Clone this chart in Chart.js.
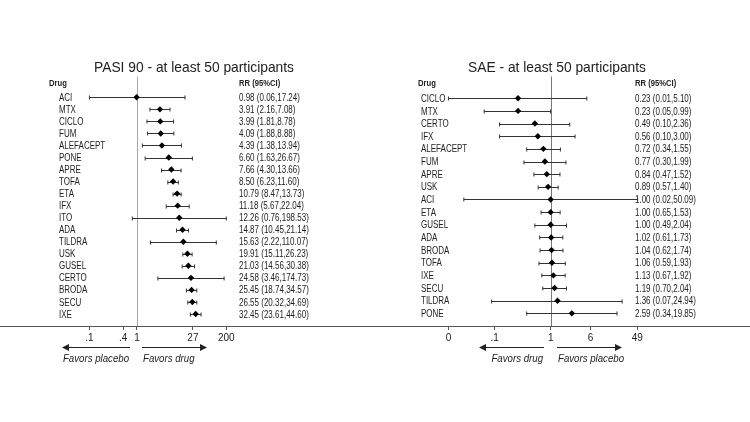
<!DOCTYPE html>
<html>
<head>
<meta charset="utf-8">
<script src="https://cdn.jsdelivr.net/npm/chart.js@4.4.1/dist/chart.umd.min.js"></script>
<style>
  body { margin: 0; background: #fff; }
  .wrap { position: relative; width: 750px; height: 422px; }
  canvas { position: absolute; top: 0; }
</style>
</head>
<body>
<div class="wrap">
  <canvas id="pasi" width="375" height="422" style="left:0"></canvas>
  <canvas id="sae" width="375" height="422" style="left:375px"></canvas>
</div>
<script>
// PASI 90 panel
const pasiDrugs = ['ACI', 'MTX', 'CICLO', 'FUM', 'ALEFACEPT', 'PONE', 'APRE', 'TOFA', 'ETA', 'IFX',
  'ITO', 'ADA', 'TILDRA', 'USK', 'GUSEL', 'CERTO', 'BRODA', 'SECU', 'IXE'];
const pasiRR = [0.98, 3.91, 3.99, 4.09, 4.39, 6.60, 7.66, 8.50, 10.79, 11.18,
  12.26, 14.87, 15.63, 19.91, 21.03, 24.58, 25.45, 26.55, 32.45];
const pasiLow = [0.06, 2.16, 1.81, 1.88, 1.38, 1.63, 4.30, 6.23, 8.47, 5.67,
  0.76, 10.45, 2.22, 15.11, 14.56, 3.46, 18.74, 20.32, 23.61];
const pasiHigh = [17.24, 7.08, 8.78, 8.88, 13.94, 26.67, 13.66, 11.60, 13.73, 22.04,
  198.53, 21.14, 110.07, 26.23, 30.38, 174.73, 34.57, 34.69, 44.60];
const pasiTicks = [0.06, 0.44, 1, 27.5, 198.53];
const pasiTickLabels = ['.1', '.4', '1', '27', '200'];

// SAE panel
const saeDrugs = ['CICLO', 'MTX', 'CERTO', 'IFX', 'ALEFACEPT', 'FUM', 'APRE', 'USK', 'ACI',
  'ETA', 'GUSEL', 'ADA', 'BRODA', 'TOFA', 'IXE', 'SECU', 'TILDRA', 'PONE'];
const saeRR = [0.23, 0.23, 0.49, 0.56, 0.72, 0.77, 0.84, 0.89, 1.00,
  1.00, 1.00, 1.02, 1.04, 1.06, 1.13, 1.19, 1.36, 2.59];
const saeLow = [0.01, 0.05, 0.10, 0.10, 0.34, 0.30, 0.47, 0.57, 0.02,
  0.65, 0.49, 0.61, 0.62, 0.59, 0.67, 0.70, 0.07, 0.34];
const saeHigh = [5.10, 0.99, 2.36, 3.00, 1.55, 1.99, 1.52, 1.40, 50.09,
  1.53, 2.04, 1.73, 1.74, 1.93, 1.92, 2.04, 24.94, 19.85];
const saeTicks = [0.01, 0.08, 1, 6, 49.5];
const saeTickLabels = ['0', '.1', '1', '6', '49'];

const SANS = '"Liberation Sans", Arial, sans-serif';

function drawText(ctx, str, x, y, font, align, sx) {
  ctx.save();
  ctx.font = font;
  ctx.fillStyle = '#222';
  ctx.textAlign = align;
  ctx.textBaseline = 'alphabetic';
  ctx.translate(x, y);
  ctx.scale(sx, 1);
  ctx.fillText(str, 0, 0);
  ctx.restore();
}

function arrow(ctx, x1, x2, y) {
  const dir = Math.sign(x2 - x1);
  ctx.save();
  ctx.strokeStyle = '#222';
  ctx.fillStyle = '#222';
  ctx.lineWidth = 1;
  ctx.beginPath();
  ctx.moveTo(x1, y);
  ctx.lineTo(x2 - dir * 6, y);
  ctx.stroke();
  ctx.beginPath();
  ctx.moveTo(x2, y);
  ctx.lineTo(x2 - dir * 7, y - 3.5);
  ctx.lineTo(x2 - dir * 7, y + 3.5);
  ctx.closePath();
  ctx.fill();
  ctx.restore();
}

function makeForest(id, p) {
  const rrText = p.rr.map((v, i) => `${v.toFixed(2)} (${p.low[i].toFixed(2)},${p.high[i].toFixed(2)})`);

  const forestPlugin = {
    id: 'forest',
    beforeDatasetsDraw(chart) {
      const ctx = chart.ctx;
      const xs = chart.scales.x;
      const ys = chart.scales.y;
      const area = chart.chartArea;
      // reference line at RR = 1
      const x1 = Math.round(xs.getPixelForValue(1)) + 0.5;
      ctx.save();
      ctx.strokeStyle = p.refColor;
      ctx.lineWidth = 1;
      ctx.beginPath();
      ctx.moveTo(x1, area.top);
      ctx.lineTo(x1, area.bottom);
      ctx.stroke();
      // confidence intervals
      ctx.strokeStyle = '#333';
      p.rr.forEach((v, i) => {
        const y = Math.round(ys.getPixelForValue(i)) + 0.5;
        const a = xs.getPixelForValue(p.low[i]);
        const b = xs.getPixelForValue(p.high[i]);
        ctx.beginPath();
        ctx.moveTo(a, y);
        ctx.lineTo(b, y);
        ctx.moveTo(a, y - 2);
        ctx.lineTo(a, y + 2);
        ctx.moveTo(b, y - 2);
        ctx.lineTo(b, y + 2);
        ctx.stroke();
      });
      ctx.restore();
    },
    afterDraw(chart) {
      const ctx = chart.ctx;
      const ys = chart.scales.y;
      drawText(ctx, p.title, p.titleX, 72, `15px ${SANS}`, 'center', 0.92);
      drawText(ctx, 'Drug', p.drugHeadX, 86, `bold 9px ${SANS}`, 'left', 0.85);
      drawText(ctx, 'RR (95%CI)', p.valX, 86, `bold 9px ${SANS}`, 'left', 0.85);
      p.drugs.forEach((d, i) => {
        const y = ys.getPixelForValue(i) + 3.6;
        drawText(ctx, d, p.drugX, y, `10px ${SANS}`, 'left', 0.8);
        drawText(ctx, rrText[i], p.valX, y, `10px ${SANS}`, 'left', 0.8);
      });
      arrow(ctx, p.leftArrow[0], p.leftArrow[1], 347.5);
      arrow(ctx, p.rightArrow[0], p.rightArrow[1], 347.5);
      drawText(ctx, p.leftText, p.leftArrow[0] - 1, 361.5, `italic 10.5px ${SANS}`, 'right', 0.92);
      drawText(ctx, p.rightText, p.rightArrow[0] + 1, 361.5, `italic 10.5px ${SANS}`, 'left', 0.92);
    }
  };

  return new Chart(document.getElementById(id), {
    type: 'scatter',
    data: {
      datasets: [{
        data: p.rr.map((v, i) => ({ x: v, y: i })),
        pointStyle: 'rectRot',
        pointRadius: 3.2,
        backgroundColor: '#000',
        borderColor: '#000',
        borderWidth: 0
      }]
    },
    options: {
      responsive: false,
      animation: false,
      layout: { autoPadding: false, padding: { top: 76.5, left: 0, right: 0, bottom: 0 } },
      plugins: { legend: { display: false }, tooltip: { enabled: false } },
      scales: {
        x: {
          type: 'logarithmic',
          min: p.xMin,
          max: p.xMax,
          afterBuildTicks: (axis) => { axis.ticks = p.ticks.map(v => ({ value: v })); },
          afterFit: (axis) => { axis.height = 96; },
          grid: { display: true, drawOnChartArea: false, drawTicks: true, tickLength: 4, color: '#555' },
          border: { display: true, color: '#555', width: 1 },
          ticks: {
            autoSkip: false,
            maxRotation: 0,
            padding: 2,
            color: '#222',
            font: { family: SANS, size: 10 },
            callback: (v, i) => p.tickLabels[i]
          }
        },
        y: {
          type: 'linear',
          reverse: true,
          min: p.yMin,
          max: p.yMax,
          display: false
        }
      }
    },
    plugins: [forestPlugin]
  });
}

makeForest('pasi', {
  title: 'PASI 90 - at least 50 participants',
  drugs: pasiDrugs, rr: pasiRR, low: pasiLow, high: pasiHigh,
  ticks: pasiTicks, tickLabels: pasiTickLabels,
  xMin: 3.07e-4, xMax: 1.33e6, yMin: -1.73, yMax: 19.0,
  refColor: '#a3a3c9',
  titleX: 194, drugHeadX: 49, drugX: 59, valX: 239,
  leftArrow: [130, 62], rightArrow: [142, 207],
  leftText: 'Favors placebo', rightText: 'Favors drug'
});

makeForest('sae', {
  title: 'SAE - at least 50 participants',
  drugs: saeDrugs, rr: saeRR, low: saeLow, high: saeHigh,
  ticks: saeTicks, tickLabels: saeTickLabels,
  xMin: 3.66e-4, xMax: 7920, yMin: -1.72, yMax: 18.0,
  refColor: '#777',
  titleX: 182, drugHeadX: 43, drugX: 46, valX: 260,
  leftArrow: [169, 104], rightArrow: [182, 247],
  leftText: 'Favors drug', rightText: 'Favors placebo'
});
</script>
</body>
</html>
